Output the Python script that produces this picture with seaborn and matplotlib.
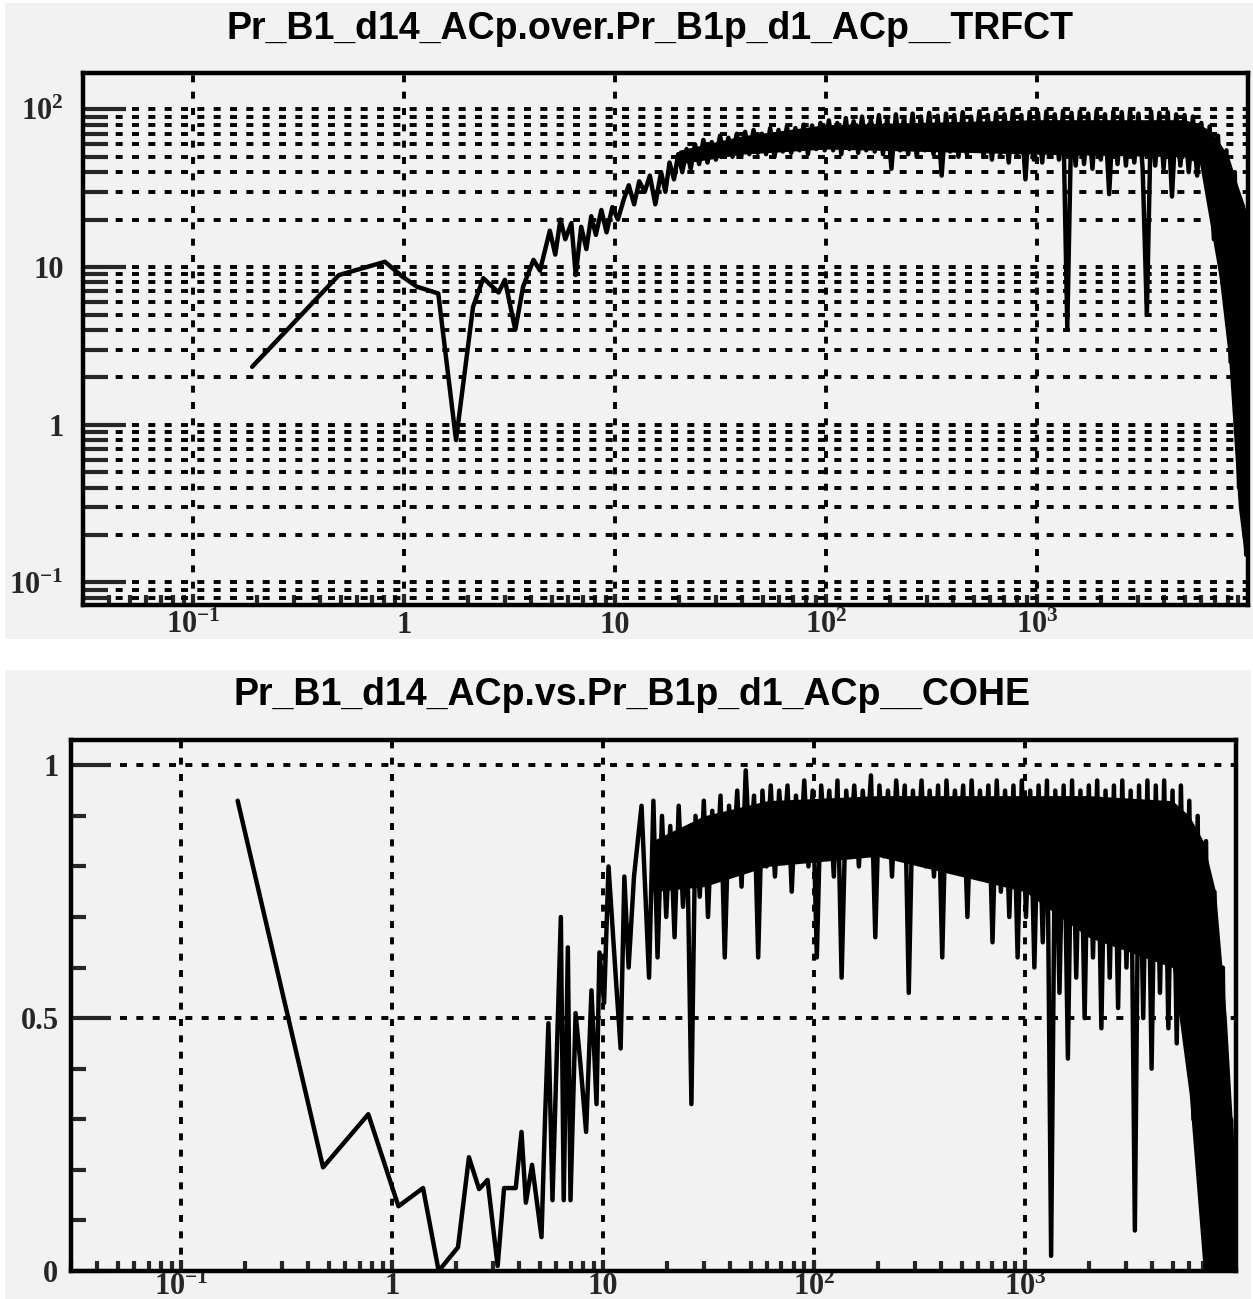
import numpy as np
import pandas as pd
import matplotlib
matplotlib.use("Agg")
import matplotlib.pyplot as plt
import seaborn as sns
from matplotlib.patches import Rectangle
from matplotlib.ticker import FixedLocator, FuncFormatter, NullFormatter, LogLocator, MultipleLocator

# ---------------- data ----------------
title_top = "Pr_B1_d14_ACp.over.Pr_B1p_d1_ACp__TRFCT"
title_bot = "Pr_B1_d14_ACp.vs.Pr_B1p_d1_ACp__COHE"

# low-frequency part, transfer function (top)
top_f_low = [0.19, 0.49, 0.81, 0.98, 1.15, 1.45, 1.76, 2.12, 2.37, 2.8, 3.0, 3.36, 3.66, 4.1, 4.4,
             4.9, 5.2, 5.5, 5.8, 6.2, 6.5, 6.9, 7.3, 7.7, 8.1, 8.6, 9.1, 9.7, 10.3, 11.0,
             11.6, 12.3, 13.0, 13.8, 14.6, 15.5]
top_v_low = [2.33, 8.9, 10.8, 8.7, 7.5, 6.8, 0.8, 5.6, 8.5, 6.9, 8.3, 4.0, 7.5, 11.1, 9.5,
             17, 12, 20, 15, 19, 8.9, 18, 13, 21, 16, 23, 16.6, 24, 20, 27,
             33, 25, 35, 30, 38, 25]

# low-frequency part, coherence (bottom)
bot_f_low = [0.185, 0.47, 0.77, 1.07, 1.40, 1.66, 2.05, 2.31, 2.58, 2.83, 3.16, 3.39, 3.85, 4.1, 4.3,
             4.6, 5.1, 5.3, 5.5, 5.75, 6.3, 6.5, 6.8, 7.0, 7.4, 7.8, 8.3, 8.8, 9.3, 9.6,
             10.1, 10.6, 11.5, 12.1, 12.6, 13.2, 14.0, 15.2]
bot_v_low = [0.93, 0.205, 0.31, 0.128, 0.164, 0.0, 0.047, 0.225, 0.162, 0.18, 0.01, 0.164, 0.164, 0.275, 0.135,
             0.21, 0.067, 0.30, 0.49, 0.14, 0.70, 0.14, 0.64, 0.14, 0.51, 0.41, 0.275, 0.555, 0.33, 0.63,
             0.53, 0.80, 0.575, 0.44, 0.78, 0.60, 0.78, 0.92]

# dense (noisy) high-frequency part, shared frequency samples
band_f = [16.5, 17.3, 18.1, 19.0, 19.9, 20.8, 21.8, 22.8, 23.9, 25.0,
          26.2, 27.4, 28.7, 30.0, 31.4, 32.9, 34.4, 36.0, 37.7, 39.5,
          41.3, 43.2, 45.3, 47.4, 49.6, 51.9, 54.3, 56.9, 59.5, 62.3,
          65.2, 68.3, 71.5, 74.8, 78.3, 82.0, 85.8, 89.8, 94.0, 98.4,
          103, 108, 113, 118, 124, 129, 135, 142, 148, 155,
          163, 170, 178, 186, 195, 204, 214, 224, 234, 245,
          257, 269, 281, 294, 308, 323, 338, 353, 370, 387,
          405, 424, 444, 465, 486, 509, 533, 558, 584, 611,
          640, 670, 701, 734, 768, 804, 842, 881, 922, 965,
          1010, 1058, 1107, 1159, 1213, 1270, 1329, 1391, 1456, 1524,
          1596, 1670, 1748, 1830, 1916, 2005, 2099, 2197, 2300, 2407,
          2520, 2638, 2761, 2890, 3025, 3167, 3315, 3470, 3632, 3802,
          3980, 4166, 4361, 4565, 4779, 5002, 5236, 5481, 5738, 6006,
          6287, 6581, 6889, 7211, 7549, 7902, 8272, 8659, 9064, 9488,
          9800]

top_v_band = [40, 30, 46, 36, 52, 40, 56, 42, 60, 45,
              64, 46, 62, 48, 68, 50, 66, 50, 70, 50,
              72, 52, 74, 53, 70, 52, 76, 50, 74, 54,
              78, 53, 76, 55, 80, 52, 79, 56, 82, 55,
              85, 55, 82, 52, 88, 56, 84, 53, 90, 55,
              86, 54, 92, 52, 88, 42, 93, 55, 89, 52,
              94, 50, 90, 55, 95, 52, 91, 38, 94, 54,
              92, 50, 96, 52, 90, 55, 97, 50, 92, 48,
              95, 52, 93, 46, 98, 50, 92, 36, 96, 48,
              95, 46, 97, 50, 93, 48, 98, 4.1, 95, 44,
              97, 45, 94, 42, 98, 48, 93, 29, 97, 45,
              96, 44, 98, 46, 94, 42, 5.0, 97, 44, 95,
              42, 96, 28, 93, 44, 92, 40, 90, 38, 82,
              40, 78, 15, 68, 8, 55, 2.5, 40, 0.4, 20,
              0.15]

bot_v_band = [0.58, 0.93, 0.62, 0.90, 0.70, 0.88, 0.66, 0.92, 0.72, 0.86,
              0.33, 0.90, 0.74, 0.93, 0.70, 0.91, 0.78, 0.94, 0.62, 0.92,
              0.80, 0.95, 0.76, 0.99, 0.82, 0.94, 0.62, 0.95, 0.80, 0.96,
              0.78, 0.95, 0.84, 0.96, 0.75, 0.94, 0.82, 0.97, 0.80, 0.95,
              0.62, 0.96, 0.84, 0.95, 0.78, 0.97, 0.58, 0.95, 0.83, 0.96,
              0.80, 0.95, 0.85, 0.98, 0.66, 0.96, 0.82, 0.95, 0.78, 0.97,
              0.84, 0.96, 0.55, 0.95, 0.82, 0.97, 0.80, 0.95, 0.78, 0.96,
              0.62, 0.97, 0.80, 0.95, 0.83, 0.96, 0.70, 0.97, 0.78, 0.95,
              0.80, 0.96, 0.65, 0.97, 0.75, 0.95, 0.70, 0.96, 0.62, 0.97,
              0.70, 0.95, 0.60, 0.96, 0.65, 0.97, 0.03, 0.95, 0.55, 0.96,
              0.42, 0.97, 0.58, 0.95, 0.50, 0.96, 0.62, 0.97, 0.48, 0.95,
              0.58, 0.96, 0.52, 0.97, 0.60, 0.95, 0.08, 0.96, 0.50, 0.97,
              0.40, 0.96, 0.55, 0.97, 0.48, 0.95, 0.45, 0.96, 0.52, 0.93,
              0.30, 0.90, 0.20, 0.85, 0.05, 0.75, 0.0, 0.60, 0.0, 0.30,
              0.0]

# solid core of the noisy band (envelopes)
top_core_f = [20, 40, 100, 1000, 5000, 5900, 6800, 7300, 8100, 9000, 9600, 10000]
top_core_lo = [45, 52, 56, 52, 50, 45, 15, 8.6, 2.6, 0.3, 0.15, 0.15]
top_core_hi = [55, 68, 80, 86, 86, 80, 72, 62, 50, 32, 25, 20]
bot_core_f = [17, 30, 60, 200, 1000, 2000, 5000, 6000, 7000, 8000, 9000, 9900]
bot_core_lo = [0.75, 0.76, 0.80, 0.82, 0.75, 0.66, 0.60, 0.35, 0.0, 0.0, 0.0, 0.0]
bot_core_hi = [0.85, 0.90, 0.93, 0.94, 0.94, 0.94, 0.93, 0.90, 0.85, 0.75, 0.50, 0.20]

x_major = [0.1, 1, 10, 100, 1000]
x_labels = [r"$\mathbf{10^{-1}}$", "1", "10", r"$\mathbf{10^{2}}$", r"$\mathbf{10^{3}}$"]
top_y_major = [0.1, 1, 10, 100]
top_y_labels = [r"$\mathbf{10^{-1}}$", "1", "10", r"$\mathbf{10^{2}}$"]
bot_y_major = [0, 0.5, 1]
bot_y_labels = ["0", "0.5", "1"]

assert len(band_f) == len(top_v_band) == len(bot_v_band)

# ---------------- style ----------------
sns.set_theme(style="white")
plt.rcParams["font.family"] = ["Liberation Serif", "DejaVu Serif"]
plt.rcParams["font.weight"] = "bold"
plt.rcParams["mathtext.fontset"] = "custom"
plt.rcParams["mathtext.rm"] = "Liberation Serif:bold"
plt.rcParams["mathtext.bf"] = "Liberation Serif:bold"
plt.rcParams["mathtext.it"] = "Liberation Serif:bold"

GRAY = "#f2f2f2"
W, H = 1253, 1299
fig = plt.figure(figsize=(W / 100, H / 100), dpi=100, facecolor="white")

def canvas(x0, y0, x1, y1):
    fig.patches.append(Rectangle((x0 / W, 1 - y1 / H), (x1 - x0) / W, (y1 - y0) / H,
                                 transform=fig.transFigure, facecolor=GRAY,
                                 edgecolor="none", zorder=-10))

canvas(5, 3, 1253, 639)
canvas(5, 670, 1251, 1299)

GRID = dict(color="black", linestyle=(0, (1.8, 2.4)), linewidth=2.8)


def nearest_label(v, majors, labels):
    lv = np.log10(max(v, 1e-12))
    idx = int(np.argmin([abs(np.log10(m) - lv) for m in majors]))
    return labels[idx]


def style_axes(ax, ymaj_len, ymin_len, ypad):
    ax.set_facecolor(GRAY)
    ax.set_axisbelow(True)
    for sp in ax.spines.values():
        sp.set_visible(True)
        sp.set_color("black")
        sp.set_linewidth(3.2)
        sp.set_zorder(5)
    ax.xaxis.set_major_locator(FixedLocator(x_major))
    ax.xaxis.set_major_formatter(FuncFormatter(lambda v, p: nearest_label(v, x_major, x_labels)))
    ax.xaxis.set_minor_locator(LogLocator(base=10, subs=np.arange(2, 10), numticks=50))
    ax.xaxis.set_minor_formatter(NullFormatter())
    ax.tick_params(axis="x", which="major", direction="in", length=8, width=3,
                   pad=4, labelsize=22, bottom=True, top=False)
    ax.tick_params(axis="x", which="minor", direction="in", length=7, width=3,
                   bottom=True, top=False)
    ax.tick_params(axis="y", which="major", direction="in", length=ymaj_len, width=3,
                   pad=ypad, labelsize=22, left=True, right=False)
    ax.tick_params(axis="y", which="minor", direction="in", length=ymin_len, width=3,
                   left=True, right=False)
    ax.set_xlabel("")
    ax.set_ylabel("")


# ---------------- top panel ----------------
ax1 = fig.add_axes([83 / W, 1 - 605 / H, 1165 / W, 532 / H])
ax1.set_xscale("log")
ax1.set_yscale("log")
df_top = pd.DataFrame({"f": top_f_low + band_f, "v": top_v_low + top_v_band})
ax1.fill_between(top_core_f, top_core_lo, top_core_hi, color="black", lw=0, zorder=2)
sns.lineplot(data=df_top, x="f", y="v", ax=ax1, color="black", linewidth=3.2,
             estimator=None, sort=False, legend=False, zorder=3)
ax1.set_xlim(0.03, 10000)
ax1.set_ylim(0.072, 170)
style_axes(ax1, 31, 18, 14)
ax1.yaxis.set_major_locator(FixedLocator(top_y_major))
ax1.yaxis.set_major_formatter(FuncFormatter(lambda v, p: nearest_label(v, top_y_major, top_y_labels)))
ax1.yaxis.set_minor_locator(LogLocator(base=10, subs=np.arange(2, 10), numticks=50))
ax1.yaxis.set_minor_formatter(NullFormatter())
ax1.yaxis.grid(True, which="both", **GRID)
ax1.xaxis.grid(True, which="major", **GRID)
ax1.xaxis.grid(False, which="minor")

# ---------------- bottom panel ----------------
ax2 = fig.add_axes([71 / W, 1 - 1271 / H, 1165 / W, 531 / H])
ax2.set_xscale("log")
df_bot = pd.DataFrame({"f": bot_f_low + band_f, "v": bot_v_low + bot_v_band})
ax2.fill_between(bot_core_f, bot_core_lo, bot_core_hi, color="black", lw=0, zorder=2)
sns.lineplot(data=df_bot, x="f", y="v", ax=ax2, color="black", linewidth=3.2,
             estimator=None, sort=False, legend=False, zorder=3)
ax2.set_xlim(0.03, 10000)
ax2.set_ylim(0, 1.05)
style_axes(ax2, 29, 11, 9)
ax2.tick_params(axis="x", which="major", pad=1)
ax2.yaxis.set_major_locator(FixedLocator(bot_y_major))
ax2.yaxis.set_major_formatter(FuncFormatter(lambda v, p: bot_y_labels[int(round(v * 2))]))
ax2.yaxis.set_minor_locator(MultipleLocator(0.1))
ax2.yaxis.grid(True, which="major", **GRID)
ax2.yaxis.grid(False, which="minor")
ax2.xaxis.grid(True, which="major", **GRID)
ax2.xaxis.grid(False, which="minor")

# ---------------- titles ----------------
fig.text(650 / W, 1 - 29 / H, title_top, ha="center", va="center",
         family=["Liberation Sans", "DejaVu Sans"], weight="bold", fontsize=27, color="black")
fig.text(632 / W, 1 - 695 / H, title_bot, ha="center", va="center",
         family=["Liberation Sans", "DejaVu Sans"], weight="bold", fontsize=27, color="black")

fig.savefig("out.png", dpi=100, facecolor="white")
